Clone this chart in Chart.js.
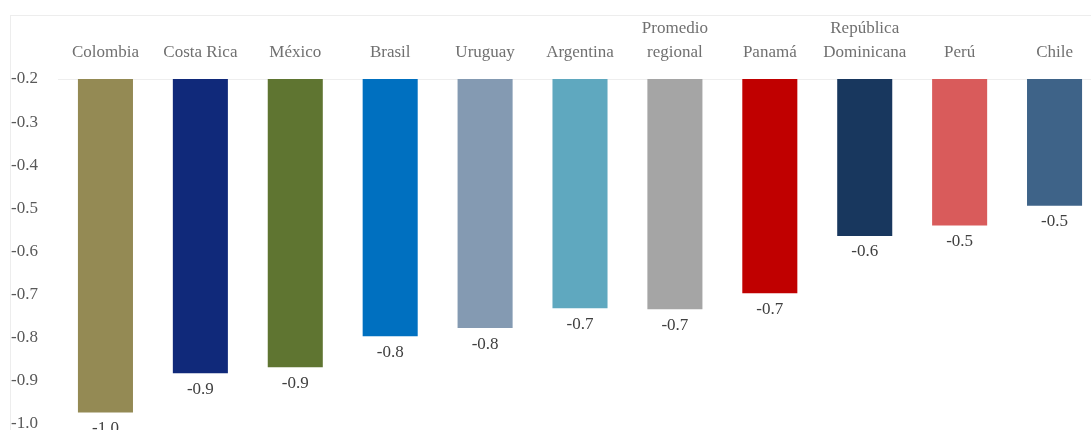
<!DOCTYPE html>
<html>
<head>
<meta charset="utf-8">
<script src="https://cdn.jsdelivr.net/npm/chart.js@4.4.1/dist/chart.umd.min.js"></script>
<style>
  html, body { margin: 0; padding: 0; background: #fff; overflow: hidden; }
  #wrap { position: relative; width: 1102px; height: 430px; overflow: hidden; }
  #frame {
    position: absolute; left: 10px; top: 15px; width: 1200px; height: 500px;
    border-top: 1px solid #ededed; border-left: 1px solid #ededed;
    pointer-events: none;
  }
  canvas { position: absolute; left: 0; top: 0; }
</style>
</head>
<body>
<div id="wrap">
  <div id="frame"></div>
  <canvas id="chart" width="1102" height="437"></canvas>
</div>
<script>
// Fiscal balance change by country, bars hang down from -0.2
const countries = ['Colombia', 'Costa Rica', 'México', 'Brasil', 'Uruguay', 'Argentina',
  ['Promedio', 'regional'], 'Panamá', ['República', 'Dominicana'], 'Perú', 'Chile'];
const values = [-0.974, -0.883, -0.869, -0.797, -0.778, -0.732, -0.734, -0.697, -0.564, -0.54, -0.494];
const barColors = ['#948a54', '#10297a', '#5f7531', '#0070c0', '#849ab2', '#5fa8bf',
  '#a5a5a5', '#c00000', '#18375e', '#d95b5b', '#3e6388'];
const yMin = -1.0;
const yMax = -0.2;

const SERIF = '"Liberation Serif", "DejaVu Serif", serif';

// value labels under each bar
const valueLabels = {
  id: 'valueLabels',
  afterDatasetsDraw(chart) {
    const ctx = chart.ctx;
    const meta = chart.getDatasetMeta(0);
    ctx.save();
    ctx.font = '17px ' + SERIF;
    ctx.fillStyle = '#404040';
    ctx.textAlign = 'center';
    ctx.textBaseline = 'middle';
    meta.data.forEach((bar, i) => {
      ctx.fillText(values[i].toFixed(1), bar.x, bar.y + 16);
    });
    ctx.restore();
  }
};

new Chart(document.getElementById('chart'), {
  type: 'bar',
  data: {
    labels: countries,
    datasets: [{
      data: values,
      base: yMax,
      backgroundColor: barColors,
      barPercentage: 0.58,
      categoryPercentage: 1.0,
    }]
  },
  options: {
    responsive: false,
    animation: false,
    layout: { padding: { left: 11, right: 0, top: 0, bottom: 0 } },
    plugins: { legend: { display: false }, tooltip: { enabled: false } },
    scales: {
      x: {
        position: 'top',
        grid: { display: false, drawTicks: false },
        border: { display: true, color: '#eeeeee', width: 1 },
        ticks: {
          color: '#707070',
          padding: 15,
          maxRotation: 0,
          autoSkip: false,
          font: { family: SERIF, size: 17, lineHeight: 1.4 },
        },
        afterFit(scale) { scale.height = 79; },
      },
      y: {
        min: yMin,
        max: yMax,
        grid: { display: false, drawTicks: false },
        border: { display: false },
        ticks: {
          stepSize: 0.1,
          crossAlign: 'far',
          color: '#595959',
          font: { family: SERIF, size: 17 },
          callback: (v) => Number(v).toFixed(1),
        },
        afterFit(scale) { scale.width = 47; },
      }
    }
  },
  plugins: [valueLabels]
});
</script>
</body>
</html>
